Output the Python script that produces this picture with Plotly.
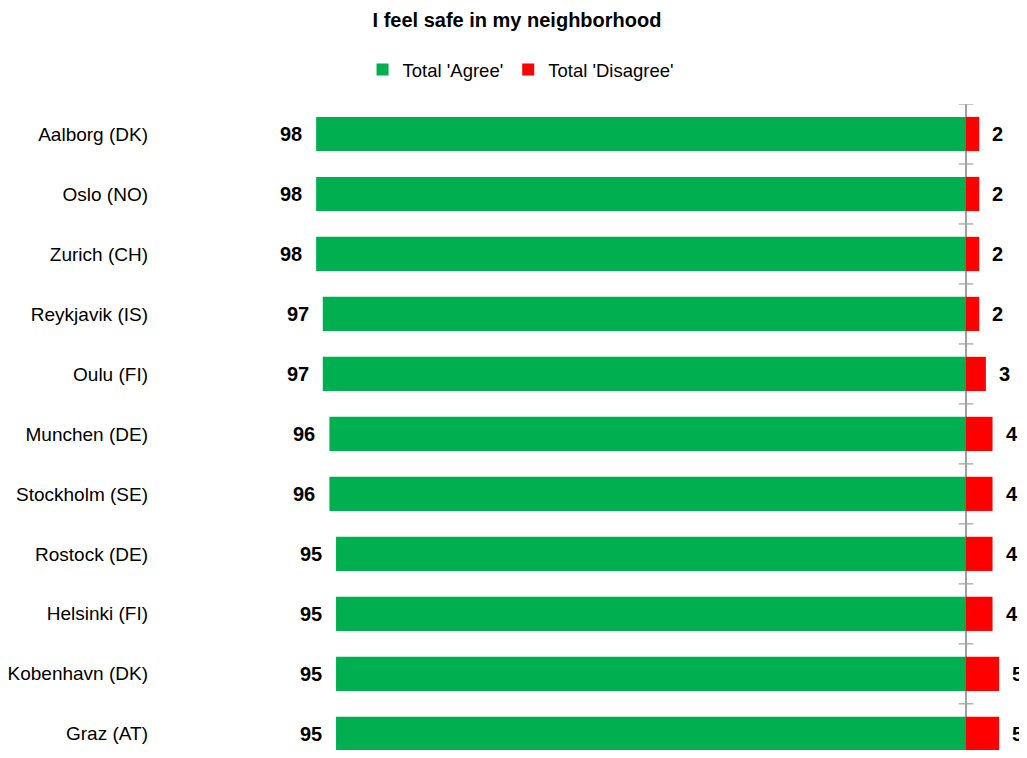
import plotly.graph_objects as go

cities = ["Aalborg (DK)", "Oslo (NO)", "Zurich (CH)", "Reykjavik (IS)", "Oulu (FI)",
          "Munchen (DE)", "Stockholm (SE)", "Rostock (DE)", "Helsinki (FI)",
          "Kobenhavn (DK)", "Graz (AT)"]
agree = [98, 98, 98, 97, 97, 96, 96, 95, 95, 95, 95]
disagree = [2, 2, 2, 2, 3, 4, 4, 4, 4, 5, 5]

GREEN = "#00B050"
RED = "#FF0000"
FONT = "Liberation Sans, Arial"

fig = go.Figure()
fig.add_trace(go.Bar(y=cities, x=[-v for v in agree], orientation="h", name="Total 'Agree'",
                     marker=dict(color=GREEN, line=dict(width=0)), width=0.57))
fig.add_trace(go.Bar(y=cities, x=disagree, orientation="h", name="Total 'Disagree'",
                     marker=dict(color=RED, line=dict(width=0)), width=0.57))

annotations = []
for c, a, d in zip(cities, agree, disagree):
    annotations.append(dict(x=-a, y=c, xref="x", yref="y", text=str(a), showarrow=False,
                            xanchor="right", xshift=-12,
                            font=dict(family=FONT, size=20, color="black", weight="bold")))
    annotations.append(dict(x=d, y=c, xref="x", yref="y", text=str(d), showarrow=False,
                            xanchor="left", xshift=11,
                            font=dict(family=FONT, size=20, color="black", weight="bold")))

shapes = []
for i in range(len(cities) + 1):
    shapes.append(dict(type="line", xref="x", yref="y", x0=-1.1, x1=1.1,
                       y0=i - 0.5, y1=i - 0.5, line=dict(color="#A0A0A0", width=1.2)))

fig.update_layout(
    width=1019, height=742,
    barmode="relative",
    plot_bgcolor="white", paper_bgcolor="white",
    margin=dict(l=147, r=0, t=96, b=0, autoexpand=False),
    title=dict(text="<b>I feel safe in my neighborhood</b>", x=0.4995, xref="container",
               xanchor="center", y=1 - 12 / 742, yref="container", yanchor="middle",
               font=dict(family=FONT, size=20, color="black")),
    legend=dict(orientation="h", x=0.503, xanchor="center", xref="container",
                y=1 - 62 / 742, yref="container", yanchor="middle",
                font=dict(family=FONT, size=18.5, color="black"),
                itemwidth=30, traceorder="normal"),
    xaxis=dict(range=[-122.3, 9.2], showgrid=False, showticklabels=False, ticks="",
               zeroline=True, zerolinecolor="#A0A0A0", zerolinewidth=1.5, fixedrange=True),
    yaxis=dict(autorange=False, range=[10.27, -0.5], showgrid=False, ticks="",
               tickfont=dict(family=FONT, size=19, color="black"), ticklabelstandoff=6,
               showline=False, zeroline=False),
    annotations=annotations,
    shapes=shapes,
    bargap=0.43,
)

fig.write_html("out.html")
